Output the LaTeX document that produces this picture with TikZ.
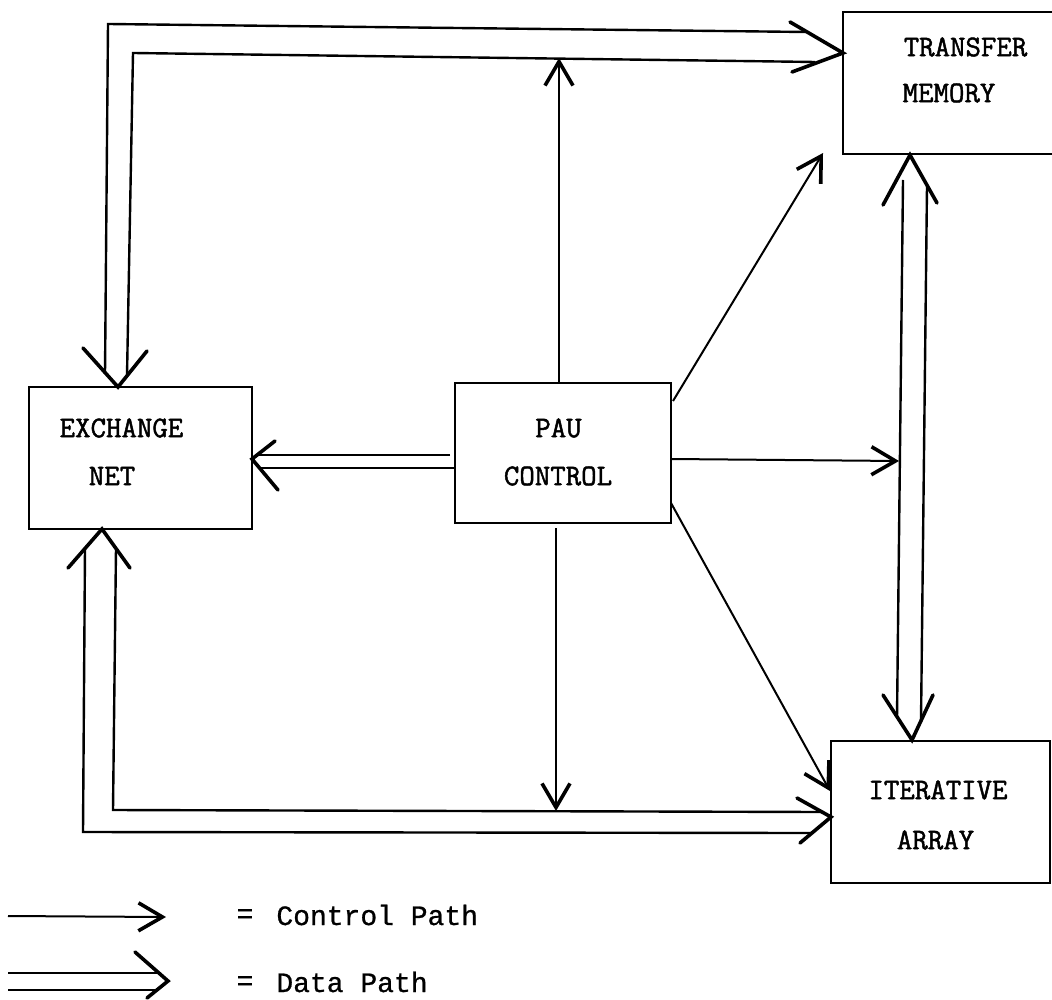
\documentclass[tikz,border=0pt]{standalone}
\usepackage{fontspec}
\newfontfamily\legfont{Liberation Mono}[FakeBold=0.8]
\newfontfamily\boxfont{Latin Modern Mono}[FakeBold=1.6]
\usetikzlibrary{arrows.meta,calc}
\begin{document}
\begin{tikzpicture}[x=0.5pt,y=-0.5pt,
  box/.style={draw,line width=1.3pt,inner sep=0pt,outer sep=0pt},
  lbl/.style={inner sep=0pt,font=\fontsize{15pt}{18pt}\selectfont\boxfont},
  leg/.style={inner sep=0pt,font=\fontsize{14pt}{17pt}\selectfont\legfont},
  ctl/.style={line width=1pt,-{Straight Barb[length=12pt,width=14pt,line width=1.8pt]}},
  dline/.style={line width=1.2pt},
  chev/.style={line width=1.8pt,line join=miter,line cap=round},
]
\useasboundingbox (0,0) rectangle (1052,999);

% boxes
\node[box,minimum width=105.5pt,minimum height=71pt] (tm) at (948.5,83) {};
\node[box,minimum width=111.5pt,minimum height=71pt] (ex) at (140.5,458) {};
\node[box,minimum width=108pt,minimum height=70pt] (pau) at (563,453) {};
\node[box,minimum width=109.5pt,minimum height=71pt] (ia) at (940.5,812) {};

% labels
\node[lbl] (tm1) at (965.5,47) {TRANSFER};
\node[lbl] (tm2) at (949,93) {MEMORY};
\node[lbl] (ex1) at (121.5,428) {EXCHANGE};
\node[lbl] (ex2) at (112,476) {NET};
\node[lbl] (pau1) at (558.5,428) {PAU};
\node[lbl] (pau2) at (558,476) {CONTROL};
\node[lbl] (ia1) at (938,790) {ITERATIVE};
\node[lbl] (ia2) at (935.5,840) {ARRAY};

% ---------- data path: exchange net <-> transfer memory (top)
\coordinate (aTipEx) at ($(ex.north west)+(89,0)$);
\coordinate (aTipTm) at ($(tm.north west)+(0,41)$);
\coordinate (aO1) at (105,374); \coordinate (aO2) at (108,24); \coordinate (aO3) at (806,32);
\coordinate (aI1) at (127,376); \coordinate (aI2) at (133,53); \coordinate (aI3) at (815,62);
\draw[dline] (aO1) -- (aO2) -- (aO3);
\draw[dline] (aI1) -- (aI2) -- (aI3);
\draw[chev] ($(aTipEx)+(-35,-39)$) -- (aTipEx) -- ($(aTipEx)+(29,-36)$);
\draw[chev] ($(aTipTm)+(-53,-31)$) -- (aTipTm) -- ($(aTipTm)+(-51,19)$);

% ---------- data path: PAU control -> exchange net
\coordinate (bTip) at ($(ex.east)+(0,1)$);
\draw[dline] ($(pau.west)+(-5,2)$) -- ($(ex.east)+(5,-3)$);
\draw[dline] ($(pau.west)+(0,15)$) -- ($(ex.east)+(8,10)$);
\draw[chev] ($(bTip)+(23,-18)$) -- (bTip) -- ($(bTip)+(26,31)$);

% ---------- data path: transfer memory <-> iterative array
\coordinate (cTipTm) at ($(tm.south west)+(67,1)$);
\coordinate (cTipIa) at ($(ia.north west)+(81,-1)$);
\coordinate (cL1) at (903,180); \coordinate (cL2) at (897,717);
\coordinate (cR1) at (927,185); \coordinate (cR2) at (921,721);
\draw[dline] (cL1) -- (cL2);
\draw[dline] (cR1) -- (cR2);
\draw[chev] ($(cTipTm)+(-27,50)$) -- (cTipTm) -- ($(cTipTm)+(27,48)$);
\draw[chev] ($(cTipIa)+(-29,-45)$) -- (cTipIa) -- ($(cTipIa)+(21,-45)$);

% ---------- data path: exchange net <-> iterative array (bottom)
\coordinate (dTipEx) at ($(ex.south west)+(73,0)$);
\coordinate (dTipIa) at ($(ia.north west)+(0,76)$);
\coordinate (dI1) at (116,548); \coordinate (dI2) at (113,810); \coordinate (dI3) at (822,812);
\coordinate (dO1) at (85,548); \coordinate (dO2) at (83,832); \coordinate (dO3) at (812,833);
\draw[dline] (dI1) -- (dI2) -- (dI3);
\draw[dline] (dO1) -- (dO2) -- (dO3);
\draw[chev] ($(dTipEx)+(-34,39)$) -- (dTipEx) -- ($(dTipEx)+(28,39)$);
\draw[chev] ($(dTipIa)+(-34,-19)$) -- (dTipIa) -- ($(dTipIa)+(-31,26)$);

% ---------- control paths from PAU control
\coordinate (eUp) at (559,58);
\coordinate (eTm) at ($(tm.south west)+(-20,-1)$);
\coordinate (eRt) at (899,461);
\coordinate (eIa) at (830,791);
\coordinate (eDn) at (556,811);
\draw[ctl] ($(pau.north)+(-4,0)$) -- (eUp);
\draw[ctl] ($(pau.north east)+(2,18)$) -- (eTm);
\draw[ctl] ($(pau.east)+(0,6)$) -- (eRt);
\draw[ctl] ($(pau.south east)+(0,-20)$) -- (eIa);
\draw[ctl] ($(pau.south)+(-7,5)$) -- (eDn);

% ---------- legend
\coordinate (lc1) at (8,916); \coordinate (lc2) at (166,917);
\draw[ctl] (lc1) -- (lc2);
\coordinate (ld) at (168,981);
\draw[dline] (8,973) -- (158,973);
\draw[dline] (8,990) -- (157,990);
\draw[chev] ($(ld)+(-33,-29)$) -- (ld) -- ($(ld)+(-21,17)$);
\node[leg] (eq1) at (245,916) {=};
\node[leg,anchor=west] (lt1) at (276,915) {Control Path};
\node[leg] (eq2) at (245,983) {=};
\node[leg,anchor=west] (lt2) at (276,982) {Data Path};
\end{tikzpicture}
\end{document}
